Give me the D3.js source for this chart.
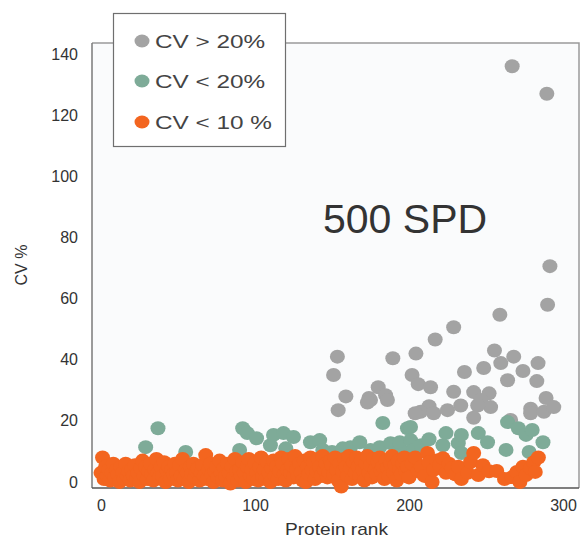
<!DOCTYPE html>
<html>
<head>
<meta charset="utf-8">
<script src="https://d3js.org/d3.v7.min.js"></script>
<style>
  body { margin: 0; background: #fff; }
  svg { display: block; font-family: "Liberation Sans", Arial, sans-serif; }
</style>
</head>
<body>
<svg id="chart" width="581" height="539"></svg>
<script>
// CV > 20% (grey)
const highCv = [
  [267,136],[289.5,127],[291.5,70.6],[290,58],[259,54.7],[229,50.6],[217,46.6],[204.5,42],
  [189.5,40.5],[153.5,41],[151,35],[202,35],[206,32],[214,31],[236,36],[255.5,43],
  [248.5,37.3],[259.6,38.9],[268,41],[264,33.3],[274,36.3],[283.8,38.9],[283,33],[289,27.5],
  [180,31],[184.8,28.4],[159,28],[174,27.5],[229,29.5],[242,29.4],[252,29],[175,26.8],
  [154,23.5],[213,24.8],[246.6,26.8],[279,24],[233.6,25],[253,24.5],[207.5,23],[216,22.5],
  [225,23.5],[244.6,25],[242,21],[266,20.3],[279,22.5],[287.6,23],[294,24.5],[173,26],
  [186,26.8],[204,22.5]
];

// CV < 20% (green)
const midCv = [
  [29,11.4],[37,17.6],[55,9.8],[90,10.5],[92,17.6],[95,16],[101,14.3],[110,12],[112,15.4],
  [118.5,16],[120,11],[125,14.7],[136,13],[142,13.7],[144,10.5],[150,9.8],[157,11],[162,11.4],
  [168,13],[175,10.5],[181,11.4],[183,19.3],[188,12.7],[193,9.8],[194,13],[199,17.6],
  [199,9.8],[201,13.7],[201,18],[203,10.5],[208,12],[213,14],[222,12],[224,16],[232,12.7],
  [234,15.4],[234,9.5],[245,16],[251,13],[263,10.5],[264,19.6],[271,17.6],[276,15.4],
  [278,9.8],[280,17],[287,13]
];

// CV < 10 % (orange)
const lowCv = [
  [0,3],[1,8],[2,1],[3,5],[4,2],[5,4],[6,0.5],[7,3],[8,6],[9,1.5],[10,4],[11,2.5],[12,0],
  [13,5],[14,3],[15,1],[16,6],[17,2],[18,3.5],[19,0.5],[20,4],[21,2],[22,5.5],[23,1],[24,3],
  [25,0],[26,4.5],[27,7],[28,2],[29,5],[30,1],[31,3.5],[32,6],[33,2.5],[34,0.5],[35,4],
  [36,7.5],[37,3],[38,1.5],[39,5],[40,2],[41,6.5],[42,0],[43,3.5],[44,5],[45,1],[46,4],
  [47,2.5],[48,6],[49,3],[50,0.5],[51,5.5],[52,2],[53,7.5],[54,1],[55,4],[56,3],[57,0],
  [58,5],[59,2.5],[60,6],[61,1.5],[62,3.5],[63,4.5],[64,0.5],[65,3],[66,5.5],[67,2],
  [68,8.8],[69,1],[70,4],[71,6],[72,2.5],[73,0],[74,3.5],[75,5],[76,1.5],[77,7],[78,3],
  [79,0.5],[80,4.5],[81,2],[82,6],[83,3],[84,-0.5],[85,5],[86,1.5],[87,7.5],[88,3.5],
  [89,0.5],[90,4],[91,2],[92,6.5],[93,3],[94,0],[95,5],[96,7.5],[97,2],[98,4],[99,1],[100,6],
  [101,3],[102,0.5],[103,5],[104,8],[105,2],[106,4],[107,1],[108,6.5],[109,3],[110,0],
  [111,4.5],[112,7],[113,2],[114,5],[115,1],[116,3.5],[117,8],[118,6],[119,2.5],[120,0.5],
  [121,4],[122,7.5],[123,3],[124,5.5],[125,1.5],[126,8.5],[127,4],[128,2],[129,6],[130,3],
  [131,0.5],[132,7],[133,0],[134,5],[135,2.5],[136,8],[137,4],[138,6.5],[139,1],[140,3.5],
  [141,7.5],[142,5],[143,2],[144,8.5],[145,4],[146,6],[147,1.5],[148,3],[149,7],[150,5.5],
  [151,2.5],[152,8],[153,4],[154,0.5],[155,6],[156,-1.5],[157,3.5],[158,7.5],[159,5],[160,2],
  [161,8.5],[162,4.5],[163,1],[164,6.5],[165,3],[166,8],[167,5],[168,2],[169,7],[170,4],
  [171,0.5],[172,6],[173,8.5],[174,3],[175,5.5],[176,1.5],[177,7.5],[178,4],[179,2.5],
  [180,6.5],[181,8],[182,3.5],[183,5],[184,1],[185,7],[186,4.5],[187,2],[188,6],[189,8.5],
  [190,3],[191,5.5],[192,0.5],[193,7],[194,4],[195,2.5],[196,6],[197,8],[198,3.5],[199,5],
  [200,1.5],[202,6],[204,8],[206,3.5],[208,5],[210,2],[212,9.5],[213,6.5],[215,0],[216,4],
  [218,7],[220,5.5],[222,7.8],[224,3],[226,6],[228,4.5],[230,2.5],[232,5],[234,1],[238,3],
  [240,6.5],[242,9.5],[245,2.3],[248,5.5],[252,3.5],[257,3.6],[262,1],[267,1.6],[270,3.3],
  [272,0],[274,5],[276,2.3],[279,4.5],[281,6.5],[282,3.3],[284,8]
];

const legendLabels = ["CV > 20%", "CV < 20%", "CV < 10 %"];
const xTicks = [0, 100, 200, 300];
const yTicks = [0, 20, 40, 60, 80, 100, 120, 140];

const colors = ["#a3a3a3", "#7eab98", "#f3651f"];

const svg = d3.select("#chart");

const frame = { left: 92, top: 43, right: 579, bottom: 488 };

const x = d3.scaleLinear().domain([0, 300]).range([101, 563]);
const y = d3.scaleLinear().domain([0, 140]).range([482, 54]);

// plot background
svg.append("rect")
    .attr("x", frame.left).attr("y", frame.top)
    .attr("width", frame.right - frame.left)
    .attr("height", frame.bottom - frame.top)
    .attr("fill", "#fafbfc");

// light top and right frame
svg.append("path")
    .attr("d", `M${frame.left},${frame.top}H${frame.right}V${frame.bottom}`)
    .attr("fill", "none")
    .attr("stroke", "#9a9a9a")
    .attr("stroke-width", 1.5);

// axes
const yAxis = svg.append("g")
    .attr("transform", `translate(${frame.left},0)`)
    .call(d3.axisLeft(y).tickValues(yTicks).tickSize(0).tickPadding(14));

const xAxis = svg.append("g")
    .attr("transform", `translate(0,${frame.bottom})`)
    .call(d3.axisBottom(x).tickValues(xTicks).tickSize(0).tickPadding(12));

[yAxis, xAxis].forEach(a => {
    a.select(".domain").remove();
    a.selectAll("text")
        .attr("fill", "#333")
        .style("font-size", "16px")
        .style("font-family", "'Liberation Sans', Arial, sans-serif");
});

svg.append("line")
    .attr("x1", frame.left).attr("x2", frame.left)
    .attr("y1", frame.top).attr("y2", frame.bottom)
    .attr("stroke", "#7a7a7a").attr("stroke-width", 1.5);

svg.append("line")
    .attr("x1", frame.left).attr("x2", frame.right)
    .attr("y1", frame.bottom).attr("y2", frame.bottom)
    .attr("stroke", "#555").attr("stroke-width", 1.5);

// points
const series = [highCv, midCv, lowCv];
series.forEach((data, i) => {
    svg.append("g")
        .selectAll("ellipse")
        .data(data)
        .enter().append("ellipse")
        .attr("cx", d => x(d[0]))
        .attr("cy", d => y(d[1]))
        .attr("rx", 7.5)
        .attr("ry", 7)
        .attr("fill", colors[i]);
});

// axis titles
svg.append("text")
    .attr("transform", "translate(27,265) rotate(-90)")
    .attr("text-anchor", "middle")
    .attr("fill", "#333")
    .style("font-size", "16px")
    .text("CV %");

svg.append("text")
    .attr("x", 285).attr("y", 535)
    .attr("textLength", 103)
    .attr("lengthAdjust", "spacingAndGlyphs")
    .attr("fill", "#333")
    .style("font-size", "17px")
    .text("Protein rank");

svg.append("text")
    .attr("x", 323).attr("y", 233)
    .attr("fill", "#333")
    .style("font-size", "41px")
    .text("500 SPD");

// legend
const legend = svg.append("g");
legend.append("rect")
    .attr("x", 113.5).attr("y", 13.5)
    .attr("width", 172).attr("height", 133)
    .attr("fill", "#fff")
    .attr("stroke", "#6f6f6f")
    .attr("stroke-width", 1.2);

const legendY = [41, 81, 122];
const legendLen = [110, 110, 117];
legendLabels.forEach((label, i) => {
    legend.append("ellipse")
        .attr("cx", 142).attr("cy", legendY[i])
        .attr("rx", 7.5).attr("ry", 6.5)
        .attr("fill", colors[i]);
    legend.append("text")
        .attr("x", 155).attr("y", legendY[i] + 7)
        .attr("textLength", legendLen[i])
        .attr("lengthAdjust", "spacingAndGlyphs")
        .attr("fill", "#444")
        .style("font-size", "19px")
        .text(label);
});
</script>
</body>
</html>
